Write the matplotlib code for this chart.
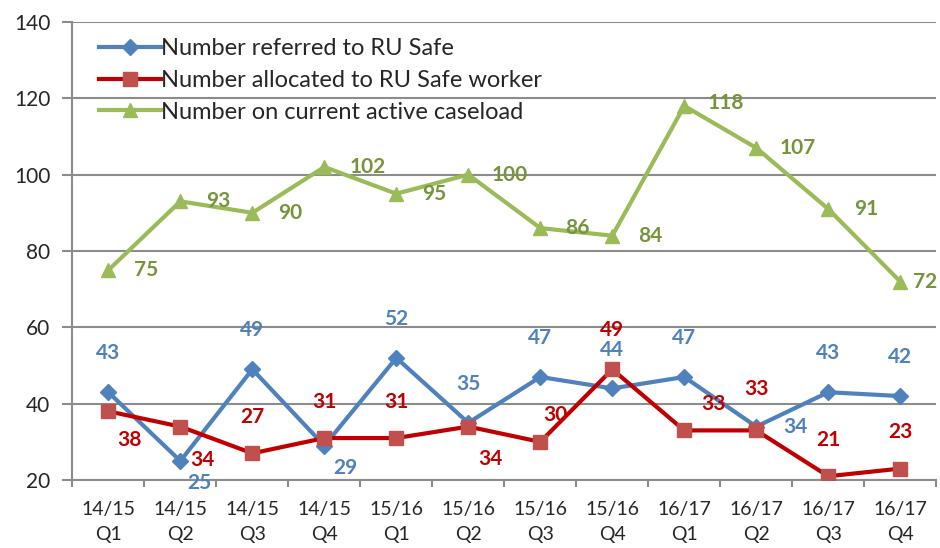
import numpy as np
import matplotlib
matplotlib.use("Agg")
import matplotlib.pyplot as plt

plt.rcParams['font.family'] = ['Lato', 'DejaVu Sans']

# ---- data ----
quarters = ["14/15\nQ1", "14/15\nQ2", "14/15\nQ3", "14/15\nQ4",
            "15/16\nQ1", "15/16\nQ2", "15/16\nQ3", "15/16\nQ4",
            "16/17\nQ1", "16/17\nQ2", "16/17\nQ3", "16/17\nQ4"]
referred = [43, 25, 49, 29, 52, 35, 47, 44, 47, 34, 43, 42]
allocated = [38, 34, 27, 31, 31, 34, 30, 49, 33, 33, 21, 23]
caseload = [75, 93, 90, 102, 95, 100, 86, 84, 118, 107, 91, 72]

# label offsets (points) for each data label
off_ref = [(0, 28), (14, -16), (0, 28), (15, -16), (0, 28), (0, 28),
           (0, 28), (0, 28), (0, 28), (28, 0), (0, 28), (0, 28)]
off_all = [(15, -21), (16, -24), (0, 26), (0, 26), (0, 26), (16, -23),
           (11, 19), (0, 28), (21, 19), (0, 30), (0, 26), (0, 26)]
off_case = [(27, 0), (27, 0), (27, 0), (31, 0), (27, 0), (30, 0),
            (27, 0), (27, 0), (30, 2), (30, 0), (27, 0), (18, 0)]

BLUE = "#4F81BD"
RED_LINE = "#C00000"
RED_MK = "#C0504D"
GREEN = "#9BBB59"
GREEN_TXT = "#77933C"
GRID = "#8C8C8C"
TXT = "#262626"

fig = plt.figure(figsize=(9.4, 5.48), dpi=100)
ax = fig.add_axes([0.077, 0.124, 0.919, 0.836])

x = np.arange(len(quarters))

ax.plot(x, referred, color=BLUE, lw=3, marker="D", ms=8,
        mfc=BLUE, mec=BLUE, label="Number referred to RU Safe", zorder=3)
ax.plot(x, allocated, color=RED_LINE, lw=3, marker="s", ms=10,
        mfc=RED_MK, mec=RED_MK, label="Number allocated to RU Safe worker", zorder=4)
ax.plot(x, caseload, color=GREEN, lw=3, marker="^", ms=10,
        mfc=GREEN, mec=GREEN, label="Number on current active caseload", zorder=3)

for vals, offs, col in [(referred, off_ref, BLUE),
                        (allocated, off_all, RED_LINE),
                        (caseload, off_case, GREEN_TXT)]:
    for xi, v, o in zip(x, vals, offs):
        ax.annotate(str(v), (xi, v), xytext=o, textcoords="offset points",
                    ha="center", va="center", fontsize=15, fontweight="bold",
                    color=col, zorder=5)

ax.set_ylim(20, 140)
ax.set_yticks(range(20, 141, 20))
ax.set_xlim(-0.5, len(quarters) - 0.5)
ax.set_xticks(x)
ax.set_xticklabels(quarters, linespacing=1.6)
ax.set_xticks(np.arange(-0.5, len(quarters), 1), minor=True)
ax.tick_params(axis="x", which="major", length=0, pad=15, labelsize=14, labelcolor=TXT)
ax.tick_params(axis="x", which="minor", length=5, width=1.5, color=GRID)
ax.tick_params(axis="y", length=7, width=1.5, color=GRID, labelsize=15, pad=9,
               labelcolor=TXT)

ax.grid(axis="y", color=GRID, lw=1.5, zorder=0)
ax.set_axisbelow(True)
for s in ["top", "right"]:
    ax.spines[s].set_visible(False)
for s in ["left", "bottom"]:
    ax.spines[s].set_color(GRID)
    ax.spines[s].set_linewidth(1.5)

leg = ax.legend(loc="upper left", bbox_to_anchor=(0.012, 1.0), frameon=False,
                fontsize=17, handlelength=2.6, handletextpad=0.0,
                labelspacing=0.45, borderaxespad=0.3)
for t in leg.get_texts():
    t.set_color(TXT)

fig.savefig("out.png", dpi=100)
